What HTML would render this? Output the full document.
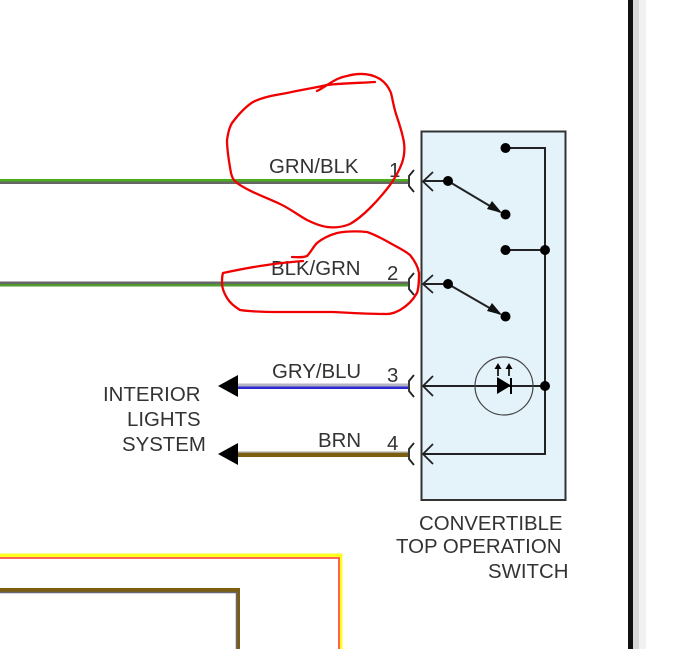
<!DOCTYPE html>
<html>
<head>
<meta charset="utf-8">
<style>
html,body{margin:0;padding:0;background:#fff;}
svg{display:block;}
text{font-family:"Liberation Sans",sans-serif;font-size:20.4px;fill:#333;}
</style>
</head>
<body>
<svg width="680" height="649" viewBox="0 0 680 649" xmlns="http://www.w3.org/2000/svg">
<rect width="680" height="649" fill="#fff"/>
<!-- right border -->
<rect x="636" y="0" width="10" height="649" fill="#f1f1f1"/>
<rect x="632" y="0" width="7" height="649" fill="#d8d8d8"/>
<rect x="628" y="0" width="5" height="649" fill="#111"/>
<!-- switch box -->
<rect x="421.5" y="131.5" width="144" height="368.5" fill="#e4f3f9" stroke="#333" stroke-width="2"/>
<!-- wires -->
<rect x="0" y="179" width="408" height="2.500" fill="#4aad1e"/><rect x="0" y="181.500" width="408" height="2.500" fill="#666"/>
<rect x="0" y="281.500" width="408" height="2.500" fill="#666"/><rect x="0" y="284" width="408" height="2.500" fill="#4f9c2e"/>
<rect x="236" y="383.500" width="172" height="3" fill="#b4b4c4"/><rect x="236" y="386.500" width="172" height="2.500" fill="#2a2ad0"/>
<rect x="236" y="451.500" width="172" height="1.500" fill="#a0a088"/><rect x="236" y="453" width="172" height="4" fill="#7d5d10"/>
<!-- wire arrowheads -->
<polygon points="218,386 238,375 238,397" fill="#000"/>
<polygon points="218,454 238,443 238,465" fill="#000"/>
<!-- connectors -->
<g fill="none" stroke="#222" stroke-width="1.8">
<path d="M414,170 L409,176 V186 L414,192"/>
<path d="M414,273 L409,279 V289 L414,295"/>
<path d="M414,375 L409,381 V391 L414,397"/>
<path d="M414,443 L409,449 V459 L414,465"/>
<path d="M433,172 L423,181.500 L433,191"/>
<path d="M433,275 L423,284 L433,293"/>
<path d="M433,376 L423,386 L433,396"/>
<path d="M433,444 L423,454 L433,464"/>
</g>
<!-- internal lines -->
<g fill="none" stroke="#222" stroke-width="2">
<path d="M505,148 H545 V454 H423"/>
<path d="M505,250 H545"/>
<path d="M423,181 H448"/>
<path d="M423,284 H448"/>
<path d="M423,386 H545"/>
<path d="M448,181 L500,212"/>
<path d="M448,284 L500,314"/>
</g>
<polygon points="502,213 487,209 492,201" fill="#111"/>
<polygon points="502,315 487,311 492,303" fill="#111"/>
<g fill="#000">
<circle cx="505.500" cy="148" r="5"/>
<circle cx="448" cy="181" r="5"/>
<circle cx="505.500" cy="214.500" r="5"/>
<circle cx="505.500" cy="250" r="5"/>
<circle cx="545" cy="250" r="5"/>
<circle cx="448" cy="284" r="5"/>
<circle cx="505.500" cy="316.500" r="5"/>
<circle cx="545" cy="386" r="5"/>
</g>
<!-- LED -->
<circle cx="504" cy="386" r="29" fill="none" stroke="#444" stroke-width="1.2"/>
<polygon points="497,377 497,394 511,385.500" fill="#000"/>
<path d="M511,378 V394" stroke="#000" stroke-width="2"/>
<path d="M498,368 V376 M509,368 V376" stroke="#000" stroke-width="1.6"/>
<polygon points="494.500,369 501.500,369 498,363" fill="#000"/>
<polygon points="505.500,369 512.500,369 509,363" fill="#000"/>
<!-- labels -->
<text x="269" y="173">GRN/BLK</text>
<text x="271" y="275">BLK/GRN</text>
<text x="272" y="378">GRY/BLU</text>
<text x="318" y="447">BRN</text>
<text x="389" y="177">1</text>
<text x="387" y="280">2</text>
<text x="387" y="382">3</text>
<text x="387" y="450">4</text>
<text x="103" y="401">INTERIOR</text>
<text x="127" y="426">LIGHTS</text>
<text x="122" y="451">SYSTEM</text>
<text x="419" y="530">CONVERTIBLE</text>
<text x="396" y="553">TOP OPERATION</text>
<text x="488" y="578">SWITCH</text>
<!-- bottom wires -->
<path d="M0,555.500 H340.500 V649" fill="none" stroke="#ffff20" stroke-width="4"/>
<path d="M0,558 H339 V649" fill="none" stroke="#ff5050" stroke-width="1.800"/>
<path d="M0,590 H238 V649" fill="none" stroke="#7d5d10" stroke-width="4"/>
<path d="M0,592.500 H236.500 V649" fill="none" stroke="#667" stroke-width="1.500"/>
<!-- red annotations -->
<g fill="none" stroke="#f00000" stroke-width="2.300" stroke-linejoin="round" stroke-linecap="round">
<path d="M317,91 C321,89 324,87 327,85 C335,80 340,77 347,76 C358,73 370,73 380,79 C386,83 389,88 391,93 C393,101 394,109 397,117 C400,126 403,135 404,143 C405,150 404,157 402,163 C399,171 395,178 390,185 C384,193 377,201 370,208 C364,214 357,220 350,224 C343,227 335,228 327,227 C320,226 313,223 307,220 C298,215 289,208 280,204 C265,197 248,191 237,183 C233,180 232,177 231,173 C229,162 227,151 227,140 C228,134 229,128 232,123 C238,115 245,107 253,102 C263,97 275,95 287,93 C300,90 314,88 327,85 C344,83 360,83 375,82"/>
<path d="M292,257 C297,257 302,258 307,256 C311,252 313,247 317,243 C323,238 330,235 337,233 C347,231 357,231 367,232 C376,235 383,239 390,243 C397,247 404,250 410,255 C414,260 418,266 419,273 C419,280 419,287 417,293 C413,300 407,306 400,310 C396,312 392,314 387,314 C369,314 351,313 333,312 C315,312 298,312 280,312 C267,312 253,312 240,310 C234,306 230,303 227,298 C224,293 222,288 222,283 C222,279 222,276 223,273 C237,270 252,267 267,265 C279,263 291,262 303,261"/>
</g>
</svg>
</body>
</html>
